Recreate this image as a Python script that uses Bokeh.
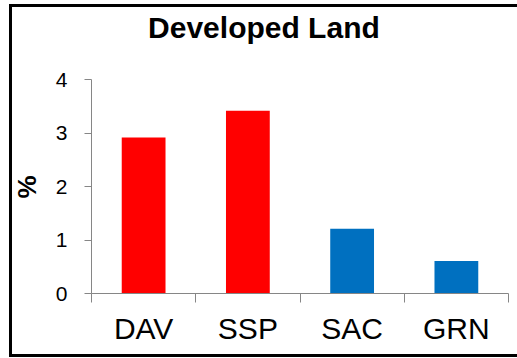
from bokeh.plotting import figure
from bokeh.layouts import column
from bokeh.models import FixedTicker, Range1d, CustomJSTickFormatter, Label, Title
from bokeh.embed import file_html
from bokeh.resources import INLINE

# Share of developed land by site (%)
sites = ["DAV", "SSP", "SAC", "GRN"]
developed_pct = [2.92, 3.42, 1.21, 0.61]
bar_colors = ["#FF0000", "#FF0000", "#0070C0", "#0070C0"]
y_ticks = [0, 1, 2, 3, 4]

FONT = "Liberation Sans"
AXIS_GREY = "#868686"

x_pos = [i + 0.5 for i in range(len(sites))]
x_bounds = list(range(len(sites) + 1))

# headroom above the value axis holds the chart title
y_top = 5.39

p = figure(
    width=517, height=358,
    output_backend="svg", toolbar_location=None,
    x_range=Range1d(0, len(sites)), y_range=Range1d(y_ticks[0], y_top),
    min_border_left=88, min_border_right=9,
    min_border_top=5, min_border_bottom=65,
)
p.border_fill_alpha = 0
p.background_fill_alpha = 0
p.outline_line_color = None
p.grid.grid_line_color = None

p.vbar(x=x_pos, top=developed_pct, width=0.42, bottom=0,
       fill_color=bar_colors, line_color=None)

# x axis: category names centred, ticks on the category boundaries
xa = p.xaxis[0]
xa.ticker = FixedTicker(ticks=x_pos, minor_ticks=x_bounds)
xa.formatter = CustomJSTickFormatter(args=dict(labels=sites),
                                     code="return labels[Math.floor(tick)];")
xa.major_tick_line_color = None
xa.major_tick_out = 0
xa.major_tick_in = 0
xa.minor_tick_out = 9
xa.minor_tick_in = 0
xa.minor_tick_line_color = AXIS_GREY
xa.axis_line_color = AXIS_GREY
xa.major_label_text_font = FONT
xa.major_label_text_font_size = "30px"
xa.major_label_text_color = "black"
xa.major_label_standoff = 9

# y axis, drawn only over the 0-4 span
ya = p.yaxis[0]
ya.bounds = (y_ticks[0], y_ticks[-1])
ya.ticker = FixedTicker(ticks=y_ticks, minor_ticks=[])
ya.major_tick_out = 7
ya.major_tick_in = 0
ya.major_tick_line_color = AXIS_GREY
ya.axis_line_color = AXIS_GREY
ya.major_label_text_font = FONT
ya.major_label_text_font_size = "21px"
ya.major_label_text_color = "black"
ya.major_label_standoff = 17

# unit label beside the value axis, centred on the 0-4 span
unit_title = Title(text="%", align="left", offset=95, vertical_align="middle",
                   standoff=20, text_font=FONT, text_font_size="26px",
                   text_font_style="bold", text_color="black")
p.add_layout(unit_title, "left")

title = Label(x=1.654, y=4.983, text="Developed Land",
              text_font=FONT, text_font_size="30px", text_font_style="bold",
              text_align="center", text_baseline="alphabetic",
              text_color="black")
p.add_layout(title)

# page wrapper carrying the black rule on the left, top and bottom
page = column(
    p, width=517, height=358,
    styles={
        "background-color": "#fff",
        "background-image": (
            "linear-gradient(#000, #000), linear-gradient(#000, #000), "
            "linear-gradient(#000, #000)"
        ),
        "background-size": "3px 353px, 508px 3px, 508px 3px",
        "background-position": "9px 4px, 9px 4px, 9px 354px",
        "background-repeat": "no-repeat",
    },
)

open("out.html", "w").write(file_html(page, INLINE))
